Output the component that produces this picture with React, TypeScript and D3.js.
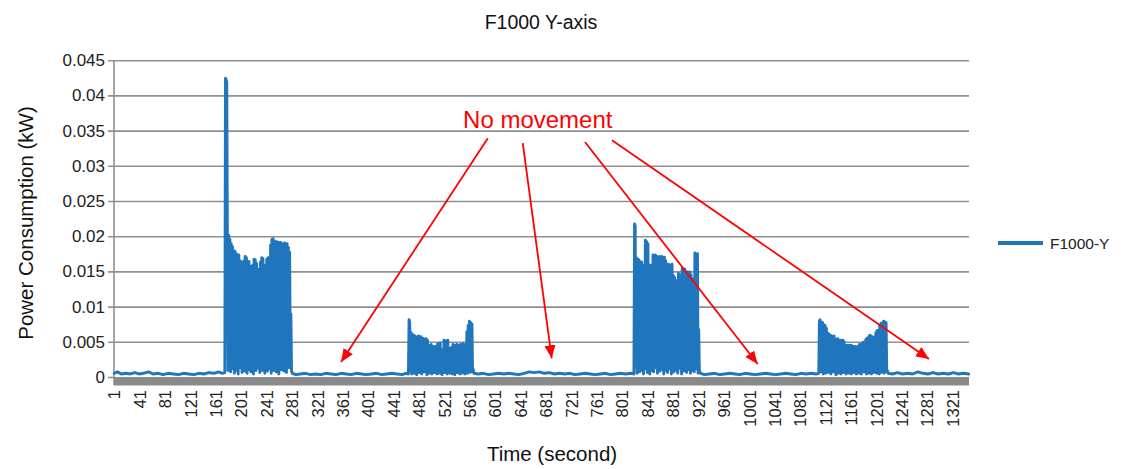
import React from "react";
import * as d3 from "d3";

// ---------- text ----------
const chartTitle = "F1000 Y-axis";
const seriesName = "F1000-Y";
const xTitle = "Time (second)";
const yTitle = "Power Consumption (kW)";
const annotationText = "No movement";

// ---------- axes ----------
const secondsTotal = 1346;
const xTickLabels = [
  "1", "41", "81", "121", "161", "201", "241", "281", "321", "361", "401", "441",
  "481", "521", "561", "601", "641", "681", "721", "761", "801", "841", "881", "921",
  "961", "1001", "1041", "1081", "1121", "1161", "1201", "1241", "1281", "1321",
];
const yTickValues = [0, 0.005, 0.01, 0.015, 0.02, 0.025, 0.03, 0.035, 0.04, 0.045];
const yTickLabels = ["0", "0.005", "0.01", "0.015", "0.02", "0.025", "0.03", "0.035", "0.04", "0.045"];

// ---------- data (power in W, converted to kW when drawn) ----------
// quiet periods: [second, W]
const quiet1 = [
  [1, 0.6], [6, 0.8], [12, 0.5], [19, 0.6], [26, 0.5], [33, 0.7], [40, 0.5], [47, 0.6],
  [55, 0.8], [62, 0.5], [70, 0.6], [78, 0.4], [86, 0.6], [94, 0.5], [102, 0.4], [110, 0.6],
  [118, 0.5], [126, 0.4], [134, 0.6], [142, 0.5], [150, 0.7], [158, 0.6], [165, 0.8], [171, 0.6], [175, 0.7],
];
const quiet2 = [
  [281, 0.6], [287, 0.4], [294, 0.5], [302, 0.6], [310, 0.4], [318, 0.5], [326, 0.4], [334, 0.6],
  [342, 0.5], [350, 0.4], [358, 0.6], [366, 0.5], [374, 0.4], [382, 0.6], [390, 0.5], [398, 0.4],
  [406, 0.5], [414, 0.6], [422, 0.4], [430, 0.5], [438, 0.6], [446, 0.5], [454, 0.4], [460, 0.6], [464, 0.5],
];
const quiet3 = [
  [567, 0.6], [574, 0.5], [582, 0.6], [590, 0.4], [598, 0.5], [606, 0.6], [614, 0.5], [622, 0.6],
  [630, 0.5], [638, 0.4], [646, 0.6], [654, 0.8], [662, 0.7], [670, 0.8], [678, 0.6], [686, 0.7],
  [694, 0.5], [702, 0.6], [710, 0.5], [718, 0.6], [726, 0.4], [734, 0.5], [742, 0.6], [750, 0.5],
  [758, 0.4], [766, 0.5], [774, 0.6], [782, 0.4], [790, 0.5], [798, 0.6], [806, 0.5], [814, 0.6], [819, 0.5],
];
const quiet4 = [
  [924, 0.6], [930, 0.4], [938, 0.5], [946, 0.6], [954, 0.4], [962, 0.5], [970, 0.6], [978, 0.5],
  [986, 0.4], [994, 0.6], [1002, 0.5], [1010, 0.4], [1018, 0.5], [1026, 0.6], [1034, 0.5], [1042, 0.4],
  [1050, 0.5], [1058, 0.6], [1066, 0.5], [1074, 0.4], [1082, 0.6], [1090, 0.5], [1098, 0.6], [1106, 0.5], [1110, 0.6],
];
const quiet5 = [
  [1219, 0.6], [1226, 0.5], [1234, 0.7], [1242, 0.5], [1250, 0.6], [1258, 0.5], [1266, 0.8], [1274, 0.6],
  [1282, 0.5], [1290, 0.7], [1298, 0.5], [1306, 0.6], [1314, 0.5], [1322, 0.7], [1330, 0.5], [1338, 0.6], [1346, 0.5],
];

// movement bursts: one value per second, starting at the given second
const burst1Start = 176;
const burst1 = [
  42.5, 42.3, 42.0, 20.5, 1.0, 20.2, 3.5, 19.6, 0.8, 19.0, 2.5, 18.6, 1.2, 18.0, 0.6, 17.9,
  2.8, 17.6, 1.0, 17.0, 0.5, 17.4, 3.0, 16.6, 1.4, 16.4, 0.7, 16.2, 2.2, 16.6, 0.9, 17.2,
  1.8, 17.0, 0.6, 16.4, 3.2, 16.5, 1.1, 15.8, 0.8, 15.2, 2.0, 16.0, 0.5, 16.8, 2.6, 16.7,
  1.0, 16.2, 3.8, 15.4, 1.3, 15.0, 0.7, 16.4, 2.4, 17.0, 1.0, 16.9, 3.0, 16.0, 0.6, 15.4,
  1.9, 16.8, 0.9, 17.0, 2.7, 16.2, 1.2, 18.8, 0.6, 19.6, 2.2, 19.7, 1.0, 19.4, 3.4, 18.9,
  0.8, 19.3, 1.6, 19.2, 0.5, 19.1, 2.8, 19.2, 1.1, 19.0, 3.6, 18.8, 0.9, 19.1, 2.0, 18.7,
  0.7, 19.0, 3.0, 18.5, 1.4, 17.8, 2.2, 9.0, 1.0,
];
const burst2Start = 465;
const burst2 = [
  8.2, 7.9, 1.0, 6.4, 0.5, 6.2, 1.4, 6.0, 0.6, 5.9, 1.2, 5.6, 0.4, 5.8, 1.6, 5.9,
  0.7, 5.7, 1.1, 5.8, 0.5, 5.6, 1.5, 5.5, 0.8, 5.4, 1.0, 5.5, 0.4, 5.3, 1.3, 4.6,
  0.6, 4.5, 1.7, 4.7, 0.5, 4.4, 1.2, 4.3, 0.7, 4.4, 1.4, 4.2, 0.5, 4.8, 1.0, 4.7,
  0.6, 4.9, 1.5, 4.0, 0.4, 3.9, 1.1, 5.3, 0.7, 5.2, 1.8, 5.0, 0.5, 5.3, 1.2, 4.2,
  0.6, 4.0, 1.3, 4.3, 0.5, 4.7, 1.0, 4.6, 0.4, 4.5, 1.6, 4.7, 0.7, 4.6, 1.1, 4.4,
  0.5, 4.7, 1.4, 4.6, 0.6, 4.8, 1.2, 4.5, 0.5, 4.7, 1.0, 6.5, 0.6, 7.4, 1.5, 8.0,
  0.7, 7.8, 1.1, 7.6, 0.8, 1.2,
];
const burst3Start = 820;
const burst3 = [
  21.8, 21.5, 1.5, 17.0, 0.6, 16.8, 2.4, 16.7, 0.8, 16.2, 4.0, 16.4, 1.0, 16.0, 0.5, 15.8,
  3.2, 19.5, 1.2, 19.3, 0.7, 19.0, 2.6, 16.0, 0.5, 15.8, 6.0, 16.0, 1.0, 17.4, 0.8, 17.2,
  3.5, 17.4, 1.4, 17.2, 0.6, 17.0, 2.2, 17.2, 0.9, 16.8, 5.5, 17.2, 1.1, 17.0, 0.5, 17.1,
  2.8, 16.6, 1.0, 14.8, 0.7, 16.1, 3.6, 16.0, 1.2, 15.6, 0.5, 16.1, 4.4, 14.5, 0.8, 14.2,
  2.0, 13.8, 1.0, 12.7, 0.6, 14.8, 3.0, 14.6, 1.3, 14.4, 0.5, 15.5, 5.0, 15.3, 0.9, 15.4,
  2.4, 15.0, 0.7, 15.0, 3.8, 14.8, 1.1, 15.0, 0.6, 14.6, 2.6, 14.0, 1.0, 13.6, 0.8, 17.7,
  2.2, 17.5, 1.2, 17.6, 0.6, 6.8, 1.0, 0.7,
];
const burst4Start = 1111;
const burst4 = [
  8.0, 8.2, 0.8, 7.9, 1.4, 7.8, 0.5, 7.5, 1.1, 7.4, 0.6, 7.0, 1.6, 6.3, 0.7, 6.2,
  1.2, 6.0, 0.5, 5.9, 1.5, 5.8, 0.8, 5.9, 1.0, 5.5, 0.4, 5.4, 1.3, 5.5, 0.6, 5.3,
  1.7, 5.3, 0.5, 5.2, 1.0, 5.3, 0.7, 5.1, 1.4, 4.6, 0.5, 4.5, 1.1, 4.6, 0.6, 4.4,
  1.8, 4.6, 0.5, 4.5, 1.2, 4.4, 0.7, 4.3, 1.0, 4.4, 0.5, 4.2, 1.5, 4.4, 0.6, 4.7,
  1.1, 4.6, 0.5, 4.8, 1.3, 5.0, 0.8, 4.9, 1.0, 5.4, 0.5, 5.6, 1.9, 5.7, 0.6, 6.0,
  1.2, 5.9, 0.5, 5.8, 1.4, 5.6, 0.7, 5.8, 1.1, 6.4, 0.6, 6.7, 1.3, 6.6, 0.5, 7.4,
  1.0, 7.7, 0.7, 7.6, 1.5, 8.0, 0.6, 7.9, 1.2, 7.8, 0.8, 1.0,
];

// annotation arrows: tail and tip in [second, kW]
const arrowTails = [[589, 0.034], [644, 0.0333], [742, 0.03345], [784.5, 0.0337]];
const arrowTips = [[358, 0.0022], [689.6, 0.00273], [1013.8, 0.00192], [1283.5, 0.00263]];
const annotationAnchor = [550, 0.03544];

// ---------- layout ----------
const W = 1123;
const H = 469;
const plotLeft = 114;
const plotRight = 969;
const plotTop = 60.7;
const plotBottom = 377.5;
const FONT = "'Liberation Sans', Arial, Helvetica, sans-serif";
const BLUE = "#1f76bd";
const GRID = "#8f8f8f";

export default function App() {
  const x = d3.scaleLinear().domain([0.5, secondsTotal + 0.5]).range([plotLeft, plotRight]);
  const y = d3.scaleLinear().domain([0, 0.045]).range([plotBottom, plotTop]);

  const toKw = (w: number) => w / 1000;
  const points: [number, number][] = [];
  const addQuiet = (q: number[][]) => q.forEach(([t, v]) => points.push([t, toKw(v)]));
  const addBurst = (start: number, vals: number[]) =>
    vals.forEach((v, i) => points.push([start + i, toKw(v)]));
  addQuiet(quiet1);
  addBurst(burst1Start, burst1);
  addQuiet(quiet2);
  addBurst(burst2Start, burst2);
  addQuiet(quiet3);
  addBurst(burst3Start, burst3);
  addQuiet(quiet4);
  addBurst(burst4Start, burst4);
  addQuiet(quiet5);
  points.sort((a, b) => a[0] - b[0]);

  const line = d3
    .line<[number, number]>()
    .x((d) => x(d[0]))
    .y((d) => y(d[1]));

  return (
    <svg
      width={W}
      height={H}
      viewBox={`0 0 ${W} ${H}`}
      style={{ position: "absolute", left: 0, top: 0, background: "#fff" }}
    >
      <defs>
        <marker
          id="arrowhead"
          markerUnits="userSpaceOnUse"
          markerWidth={14}
          markerHeight={12}
          refX={13}
          refY={5.5}
          orient="auto"
        >
          <path d="M0,0 L13,5.5 L0,11 Z" fill="#ff0000" />
        </marker>
      </defs>
      <rect x={0} y={0} width={W} height={H} fill="#fff" />

      {/* title */}
      <text x={541} y={29} textAnchor="middle" fontFamily={FONT} fontSize={19.5} fill="#111">
        {chartTitle}
      </text>

      {/* gridlines + y ticks */}
      {yTickValues.map((v, i) => (
        <g key={i}>
          {i > 0 && (
            <line x1={plotLeft - 6} x2={plotRight} y1={y(v)} y2={y(v)} stroke={GRID} strokeWidth={1.6} />
          )}
          <text
            x={105}
            y={y(v)}
            textAnchor="end"
            dominantBaseline="central"
            fontFamily={FONT}
            fontSize={17}
            fill="#222"
          >
            {yTickLabels[i]}
          </text>
        </g>
      ))}

      {/* y axis line */}
      <line x1={plotLeft} x2={plotLeft} y1={plotTop} y2={385} stroke={GRID} strokeWidth={1.6} />
      {/* category tick band */}
      <rect x={plotLeft} y={plotBottom - 0.5} width={plotRight - plotLeft} height={8.5} fill="#8a8a8a" />
      <line x1={plotLeft - 6} x2={plotLeft} y1={plotBottom} y2={plotBottom} stroke={GRID} strokeWidth={1.6} />

      {/* series */}
      <path
        d={line(points) || ""}
        fill="none"
        stroke={BLUE}
        strokeWidth={2.9}
        strokeLinejoin="round"
        strokeLinecap="round"
      />

      {/* x tick labels */}
      {xTickLabels.map((lab) => {
        const t = +lab;
        return (
          <text
            key={lab}
            transform={`translate(${x(t)},390) rotate(-90)`}
            textAnchor="end"
            dominantBaseline="central"
            fontFamily={FONT}
            fontSize={16.5}
            fill="#222"
          >
            {lab}
          </text>
        );
      })}

      {/* axis titles */}
      <text x={552} y={461} textAnchor="middle" fontFamily={FONT} fontSize={20.5} fill="#111">
        {xTitle}
      </text>
      <text
        transform={`translate(33,223) rotate(-90)`}
        textAnchor="middle"
        fontFamily={FONT}
        fontSize={20.5}
        fill="#111"
      >
        {yTitle}
      </text>

      {/* legend */}
      <line x1={998} x2={1043} y1={243} y2={243} stroke={BLUE} strokeWidth={4} />
      <text x={1050} y={243} dominantBaseline="central" fontFamily={FONT} fontSize={15.5} fill="#222">
        {seriesName}
      </text>

      {/* annotation */}
      <text
        x={x(annotationAnchor[0])}
        y={y(annotationAnchor[1])}
        fontFamily={FONT}
        fontSize={24}
        fill="#ff0000"
      >
        {annotationText}
      </text>
      {arrowTails.map((tail, i) => (
        <line
          key={i}
          x1={x(tail[0])}
          y1={y(tail[1])}
          x2={x(arrowTips[i][0])}
          y2={y(arrowTips[i][1])}
          stroke="#ff0000"
          strokeWidth={1.8}
          markerEnd="url(#arrowhead)"
        />
      ))}
    </svg>
  );
}
